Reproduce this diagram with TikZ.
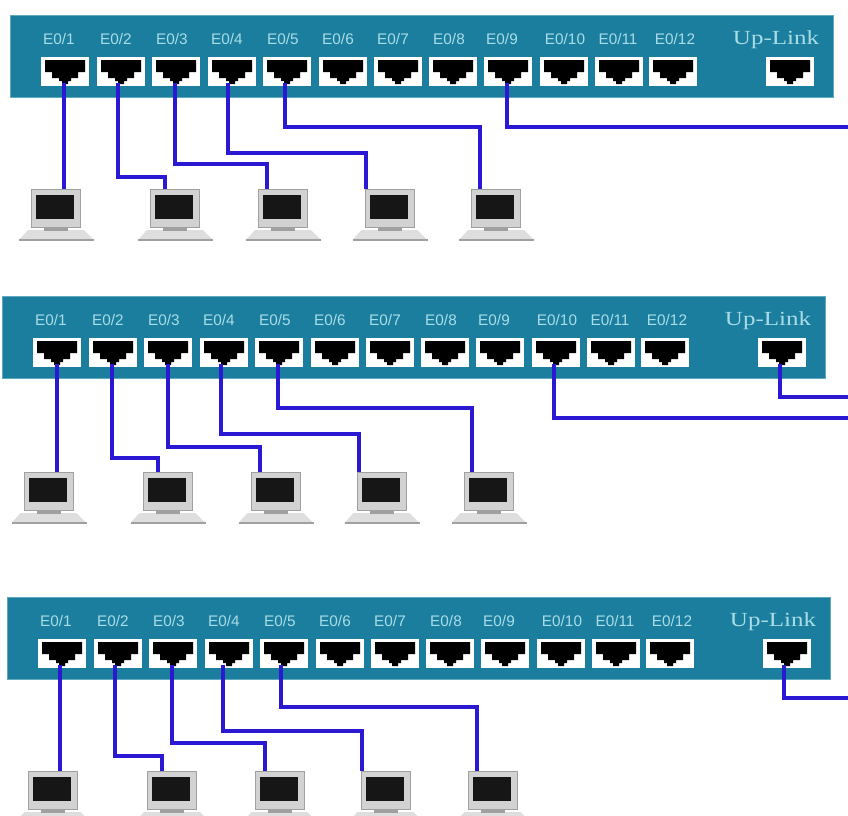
\documentclass[tikz,border=0pt]{standalone}
\usepackage{fontspec}
\setmainfont{Liberation Sans}
\newfontfamily\serifface[FakeStretch=1.25]{Liberation Serif}
\definecolor{swteal}{HTML}{1B7E9F}
\definecolor{swedge}{HTML}{5FA8BE}
\definecolor{lbl}{HTML}{A9DDE6}
\definecolor{wireblue}{HTML}{2A18D2}
\definecolor{pcgray}{HTML}{D2D2D2}
\definecolor{pcedge}{HTML}{A0A0A0}
\definecolor{pcbase}{HTML}{DEDEDE}
\definecolor{screen}{HTML}{161616}
\tikzset{
 switchbox/.style={fill=swteal,draw=swedge,line width=.6pt,minimum width=617.25pt,minimum height=61.5pt,inner sep=0pt},
 porthole/.style={fill=white,draw=none,minimum width=36pt,minimum height=21.75pt,inner sep=0pt},
 portlabel/.style={text=lbl,font=\fontsize{11.5}{12}\selectfont,inner sep=0pt},
 uplabel/.style={text=lbl,font=\serifface\fontsize{15}{16}\selectfont,inner sep=0pt},
 wire/.style={draw=wireblue,line width=2.3pt,line join=miter},
 monitor/.style={fill=pcgray,draw=pcedge,line width=.6pt,minimum width=36.75pt,minimum height=28.5pt,inner sep=0pt},
 screenbox/.style={fill=screen,draw=none,minimum width=28.5pt,minimum height=18pt,inner sep=0pt},
}
\newcommand{\plugshape}[1]{%
 \fill[black] ([shift={(-20,-11.5)}]#1.center) -- ++(40,0) -- ++(0,12) -- ++(-7,0) -- ++(0,6) -- ++(-7,0) -- ++(0,3) -- ++(-3,0) -- ++(0,3) -- ++(-6,0) -- ++(0,-3) -- ++(-3,0) -- ++(0,-3) -- ++(-7,0) -- ++(0,-6) -- ++(-7,0) -- cycle;
}
\newcommand{\switchrow}[3]{%
 \node[switchbox] (s#1) at (421.5+#2,56+#3) {};
 \foreach \i/\px/\lx in {1/65/59,2/121/116,3/176/172,4/232/227,5/287/283,6/343/338,7/398/393,8/453/449,9/508/502,10/564/565,11/619/618,12/673/675}{
  \node[portlabel] (s#1l\i) at (\lx+#2,39+#3) {E0/\i};
  \node[porthole] (s#1p\i) at (\px+#2,71.5+#3) {};
  \plugshape{s#1p\i}
 }
 \node[uplabel] (s#1lu) at (776+#2,40+#3) {Up-Link};
 \node[porthole] (s#1pu) at (790+#2,71.5+#3) {};
 \plugshape{s#1pu}
}
\newcommand{\computer}[3]{%
 \fill[pcbase] (#2-37,#3+51) -- (#2-28,#3+41) -- (#2+28,#3+41) -- (#2+38,#3+51) -- cycle;
 \fill[pcedge] (#2-37,#3+50) rectangle (#2+38,#3+51.5);
 \fill[pcedge] (#2-12,#3+39) rectangle (#2+12,#3+42);
 \node[monitor] (#1) at (#2,#3+19) {};
 \node[screenbox] (#1s) at (#2-1,#3+18) {};
}
\newcommand{\linkpc}[5]{%
 \draw[wire] ([xshift=#2*.75pt,yshift=-8.6pt]#1.center) -- ++(0,#3) -| ([xshift=#5*.75pt]#4.north);
}
\newcommand{\straightpc}[3]{%
 \draw[wire] ([xshift=#2*.75pt,yshift=-8.6pt]#1.center) coordinate (t#1) -- (t#1 |- #3.north);
}
\newcommand{\linkout}[3]{%
 \draw[wire] ([xshift=#2*.75pt,yshift=-8.6pt]#1.center) |- (#3);
}
\begin{document}
\begin{tikzpicture}[x=.75pt,y=-.75pt]
\clip (0,0) rectangle (848,815);
\fill[white] (0,0) rectangle (848,815);
\switchrow{1}{0}{0}
\switchrow{2}{-8}{281}
\switchrow{3}{-3}{582}
\computer{s1c1}{56}{189}\computer{s1c2}{175}{189}\computer{s1c3}{283}{189}\computer{s1c4}{389.5}{189}\computer{s1c5}{496}{189}
\computer{s2c1}{48.5}{472}\computer{s2c2}{167.5}{472}\computer{s2c3}{275.5}{472}\computer{s2c4}{381.5}{472}\computer{s2c5}{488.5}{472}
\computer{s3c1}{52.5}{771}\computer{s3c2}{172}{771}\computer{s3c3}{279.5}{771}\computer{s3c4}{385.5}{771}\computer{s3c5}{492.5}{771}
\coordinate (o1) at (848,127);
\coordinate (o2a) at (848,418);
\coordinate (o2b) at (848,397);
\coordinate (o3) at (848,698);
\straightpc{s1p1}{-1}{s1c1}
\linkpc{s1p2}{-3}{94}{s1c2}{-10}
\linkpc{s1p3}{-1}{81}{s1c3}{-16}
\linkpc{s1p4}{-4}{70}{s1c4}{-23.5}
\linkpc{s1p5}{-2}{44}{s1c5}{-16}
\linkout{s1p9}{-1}{o1}
\straightpc{s2p1}{0}{s2c1}
\linkpc{s2p2}{-1}{94}{s2c2}{-9.5}
\linkpc{s2p3}{0}{83}{s2c3}{-15.5}
\linkpc{s2p4}{-3}{70}{s2c4}{-22.5}
\linkpc{s2p5}{-1}{44}{s2c5}{-16.5}
\linkout{s2p10}{-2}{o2a}
\linkout{s2pu}{-2}{o2b}
\straightpc{s3p1}{-2}{s3c1}
\linkpc{s3p2}{-3}{91}{s3c2}{-10}
\linkpc{s3p3}{-1}{78}{s3c3}{-14.5}
\linkpc{s3p4}{-6}{66}{s3c4}{-23.5}
\linkpc{s3p5}{-3}{42}{s3c5}{-15.5}
\linkout{s3pu}{-3}{o3}
\end{tikzpicture}
\end{document}
